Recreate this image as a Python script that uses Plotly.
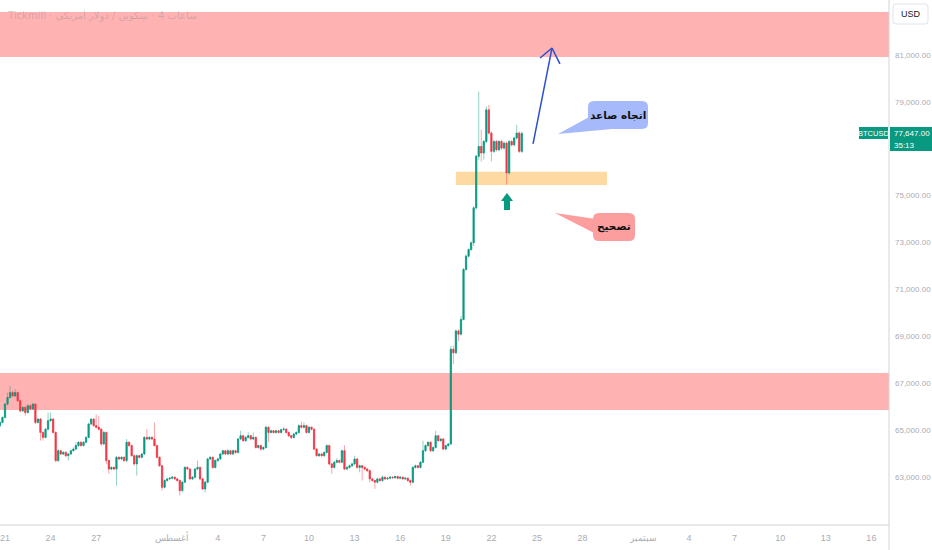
import pandas as pd
import plotly.graph_objs as go

# 4h candles, BTCUSD
opens = [65190, 65330, 65540, 66110, 66390, 66600, 66460, 66600, 66250, 65820,
         65970, 65750, 66040, 65900, 66110, 65330, 65470, 64900, 64690, 65040,
         65400, 65470, 64900, 63700, 64120, 63980, 64050, 63910, 63980, 64120,
         64190, 64340, 64480, 64340, 64480, 64690, 65260, 65470, 65190, 65120,
         65040, 64410, 64900, 63700, 63340, 63410, 63340, 63840, 63770, 63840,
         63700, 64480, 64340, 63910, 63560, 63910, 63840, 63980, 64690, 64620,
         64690, 64620, 64340, 63840, 63480, 62560, 62850, 62920, 62950, 62990,
         62920, 62850, 62420, 62780, 63410, 63340, 62920, 62990, 63340, 63410,
         62920, 62490, 62780, 63770, 63840, 63410, 63700, 63770, 63980, 64120,
         63980, 64120, 63980, 64120, 64050, 64620, 64760, 64550, 64690, 64760,
         64620, 64690, 64260, 64340, 64190, 64260, 65120, 64900, 64970, 64900,
         64970, 64900, 65020, 65040, 64900, 64760, 64690, 64830, 64900, 65190,
         65120, 65190, 64900, 65120, 65040, 64190, 63910, 63980, 63910, 64050,
         64340, 63560, 63410, 63630, 63700, 63630, 64120, 63340, 63410, 63480,
         63560, 63770, 63410, 63480, 63410, 63340, 63270, 62920, 62850, 62780,
         62920, 62850, 62990, 62920, 62950, 62990, 62970, 63020, 62950, 62990,
         62920, 62950, 62850, 62780, 63410, 63480, 63410, 63630, 64120, 64340,
         64480, 64120, 64260, 64760, 64550, 64620, 64190, 64340, 64410, 68450,
         68300, 69230, 69090, 69720, 71850, 72420, 72700, 72990, 74480, 76680,
         77100, 76820, 77310, 78660, 77670, 76890, 77310, 76960, 77310, 77030,
         77240, 75970, 77310, 77170, 77460, 77670, 76890]
highs = [65380, 65590, 66160, 66600, 66890, 66680, 66750, 66650, 66300, 66020,
         66010, 66110, 66080, 66160, 66150, 65520, 65510, 64950, 65090, 65750,
         65750, 65510, 64950, 64190, 64160, 64100, 64090, 64030, 64170, 64260,
         64480, 64530, 64520, 64530, 64740, 65310, 65500, 65510, 65680, 65610,
         65080, 64970, 64940, 63740, 63460, 63450, 63890, 63880, 63890, 63880,
         64620, 64520, 64380, 63950, 63960, 63950, 64030, 64740, 65040, 64740,
         64730, 65330, 64380, 63880, 63520, 62900, 62970, 63000, 63040, 63030,
         62960, 62890, 62830, 63460, 63450, 63380, 63040, 63390, 63700, 63450,
         62960, 62830, 63820, 63890, 63880, 63750, 63820, 64030, 64170, 64160,
         64190, 64160, 64170, 64160, 64670, 64970, 64800, 64740, 64900, 64800,
         64900, 64730, 64380, 64380, 64310, 65190, 65160, 65020, 65010, 65020,
         65010, 65070, 65120, 65080, 64940, 64800, 64880, 64950, 65240, 65360,
         65330, 65230, 65170, 65160, 65080, 64230, 64030, 64020, 64100, 64390,
         64380, 63600, 63680, 63800, 63740, 64170, 64360, 63460, 63530, 63610,
         63910, 63810, 63530, 63520, 63450, 63380, 63310, 62960, 62890, 62970,
         62960, 63060, 63030, 63000, 63040, 63030, 63060, 63060, 63040, 63030,
         62990, 62990, 62890, 63460, 63530, 63520, 63680, 64550, 64390, 64530,
         64520, 64310, 64970, 64800, 64670, 64660, 64380, 64450, 68590, 68600,
         69300, 69300, 69870, 71920, 72500, 72760, 73050, 74540, 76740, 79440,
         77810, 77380, 78800, 78870, 77740, 77380, 77380, 77380, 77380, 77310,
         77310, 77380, 77380, 77530, 78020, 77740, 77740]
lows = [65120, 65280, 65500, 66060, 66340, 66400, 66410, 66200, 65750, 65770,
        65610, 65700, 65850, 65850, 65260, 65280, 64550, 64550, 64640, 64990,
        65350, 64850, 63630, 63650, 63930, 63930, 63840, 63700, 63940, 64080,
        64150, 64290, 64290, 64300, 64440, 64650, 65210, 65140, 65070, 64990,
        64335, 64360, 63560, 63130, 63290, 63290, 62630, 63720, 63720, 63650,
        63650, 64290, 63860, 63480, 63060, 63790, 63790, 63940, 64570, 64570,
        64570, 64290, 63790, 63430, 62420, 62510, 62800, 62870, 62900, 62870,
        62800, 62210, 62370, 62740, 63290, 62870, 62870, 62940, 63290, 62870,
        62440, 62350, 62740, 63720, 63360, 63360, 63650, 63720, 63930, 63930,
        63930, 63930, 63930, 64000, 64000, 64570, 64500, 64500, 64640, 64570,
        64570, 64210, 64210, 64120, 64140, 64210, 64480, 64850, 64850, 64850,
        64850, 64850, 64970, 64850, 64710, 64620, 64640, 64780, 64850, 65070,
        65070, 64850, 64850, 64990, 64140, 63860, 63860, 63860, 63860, 64000,
        63500, 63130, 63360, 63580, 63580, 63580, 63290, 63290, 63360, 63430,
        63510, 63360, 63200, 62850, 63290, 63220, 62780, 62800, 62490, 62730,
        62800, 62800, 62870, 62870, 62900, 62930, 62930, 62900, 62900, 62870,
        62870, 62780, 62630, 62730, 63360, 63360, 63360, 63580, 64070, 64290,
        64070, 64070, 64210, 64500, 64500, 64140, 64140, 64290, 64360, 67820,
        68250, 68800, 69040, 69680, 71800, 72370, 72650, 72850, 74400, 76530,
        76460, 76530, 77240, 77600, 76460, 76820, 76890, 76890, 76960, 76960,
        75470, 75900, 77100, 77100, 77390, 76820, 76820]
closes = [65330, 65540, 66110, 66390, 66600, 66460, 66600, 66250, 65820, 65970,
          65750, 66040, 65900, 66110, 65330, 65470, 64900, 64690, 65040, 65400,
          65470, 64900, 63700, 64120, 63980, 64050, 63910, 63980, 64120, 64190,
          64340, 64480, 64340, 64480, 64690, 65260, 65470, 65190, 65120, 65040,
          64410, 64900, 63700, 63340, 63410, 63340, 63840, 63770, 63840, 63700,
          64480, 64340, 63910, 63560, 63910, 63840, 63980, 64690, 64620, 64690,
          64620, 64340, 63840, 63480, 62560, 62850, 62920, 62950, 62990, 62920,
          62850, 62420, 62780, 63410, 63340, 62920, 62990, 63340, 63410, 62920,
          62490, 62780, 63770, 63840, 63410, 63700, 63770, 63980, 64120, 63980,
          64120, 63980, 64120, 64050, 64620, 64760, 64550, 64690, 64760, 64620,
          64690, 64260, 64340, 64190, 64260, 65120, 64900, 64970, 64900, 64970,
          64900, 65020, 65040, 64900, 64760, 64690, 64830, 64900, 65190, 65120,
          65190, 64900, 65120, 65040, 64190, 63910, 63980, 63910, 64050, 64340,
          63560, 63410, 63630, 63700, 63630, 64120, 63340, 63410, 63480, 63560,
          63770, 63410, 63480, 63410, 63340, 63270, 62920, 62850, 62780, 62920,
          62850, 62990, 62920, 62950, 62990, 62970, 63020, 62950, 62990, 62920,
          62950, 62850, 62780, 63410, 63480, 63410, 63630, 64120, 64340, 64480,
          64120, 64260, 64760, 64550, 64620, 64190, 64340, 64410, 68450, 68300,
          69230, 69090, 69720, 71850, 72420, 72700, 72990, 74480, 76680, 77100,
          76820, 77310, 78660, 77670, 76890, 77310, 76960, 77310, 77030, 77240,
          75970, 77310, 77170, 77460, 77670, 76890, 77647]

times = pd.date_range("2024-07-20 16:00", periods=len(closes), freq="4h")

# zones drawn on the chart (price levels)
resist_top = [80915, 82830]
resist_low = [65860, 67440]
support_zone = [75460, 76020]
support_dates = ["2024-08-19 16:00", "2024-08-29 14:30"]

tick_dates = ["2024-07-21", "2024-07-24", "2024-07-27", "2024-08-01", "2024-08-04",
              "2024-08-07", "2024-08-10", "2024-08-13", "2024-08-16", "2024-08-19",
              "2024-08-22", "2024-08-25", "2024-08-28", "2024-09-01", "2024-09-04",
              "2024-09-07", "2024-09-10", "2024-09-13", "2024-09-16"]
tick_text = ["21", "24", "27", "أغسطس", "4", "7", "10", "13", "16", "19",
             "22", "25", "28", "سبتمبر", "4", "7", "10", "13", "16"]
# 77,000 sits under the live price label
price_ticks = [63000, 65000, 67000, 69000, 71000, 73000, 75000, 79000, 81000]

GREEN = "#089981"
RED = "#f23645"
GREY = "#a9acb4"
FONT = "Liberation Sans, Arial, sans-serif"

W, H = 889, 525   # plot area in px


def px(x, y):
    return x / W, 1 - y / H


def rbox(x0, y0, x1, y1, r):
    def p(x, y):
        a, b = px(x, y)
        return "%.5f,%.5f" % (a, b)
    return ("M " + p(x0 + r, y0) + " L " + p(x1 - r, y0) + " Q " + p(x1, y0) + " " + p(x1, y0 + r) +
            " L " + p(x1, y1 - r) + " Q " + p(x1, y1) + " " + p(x1 - r, y1) +
            " L " + p(x0 + r, y1) + " Q " + p(x0, y1) + " " + p(x0, y1 - r) +
            " L " + p(x0, y0 + r) + " Q " + p(x0, y0) + " " + p(x0 + r, y0) + " Z")


def poly(pts):
    s = []
    for i, (x, y) in enumerate(pts):
        a, b = px(x, y)
        s.append(("M " if i == 0 else "L ") + "%.5f,%.5f" % (a, b))
    return " ".join(s) + " Z"


def label(x, y, text, size, color, family=FONT, anchor="center", weight="normal"):
    a, b = px(x, y)
    return dict(xref="paper", yref="paper", x=a, y=b, xanchor=anchor, yanchor="middle",
                text=text, showarrow=False,
                font=dict(family=family, size=size, color=color, weight=weight))


# wicks (pale) + bodies (solid)
wicks = go.Candlestick(x=times, open=opens, high=highs, low=lows, close=closes,
                       increasing=dict(line=dict(color="rgba(8,153,129,0.45)", width=1),
                                       fillcolor="rgba(8,153,129,0.45)"),
                       decreasing=dict(line=dict(color="rgba(242,54,69,0.45)", width=1),
                                       fillcolor="rgba(242,54,69,0.45)"),
                       showlegend=False, hoverinfo="skip")
body_hi = [max(o, c) for o, c in zip(opens, closes)]
body_lo = [min(o, c) for o, c in zip(opens, closes)]
bodies = go.Candlestick(x=times, open=opens, high=body_hi, low=body_lo, close=closes,
                        increasing=dict(line=dict(color=GREEN, width=0.5), fillcolor=GREEN),
                        decreasing=dict(line=dict(color=RED, width=0.5), fillcolor=RED),
                        showlegend=False, hoverinfo="skip")

shapes = [
    dict(type="rect", xref="paper", yref="y", x0=0, x1=1, y0=resist_top[0], y1=resist_top[1],
         fillcolor="#ffb2b2", line=dict(width=0), layer="below"),
    dict(type="rect", xref="paper", yref="y", x0=0, x1=1, y0=resist_low[0], y1=resist_low[1],
         fillcolor="#ffb2b2", line=dict(width=0), layer="below"),
    dict(type="rect", xref="x", yref="y", x0=support_dates[0], x1=support_dates[1],
         y0=support_zone[0], y1=support_zone[1], fillcolor="#fed9a2", line=dict(width=0), layer="below"),
    # blue trend arrow
    dict(type="line", xref="x", yref="y", x0="2024-08-24 17:45", y0=77210, x1="2024-08-25 23:45", y1=81300,
         line=dict(color="#2a4fd0", width=1.5)),
    dict(type="line", xref="x", yref="y", x0="2024-08-25 04:50", y0=80870, x1="2024-08-25 23:45", y1=81300,
         line=dict(color="#2a4fd0", width=1.5)),
    dict(type="line", xref="x", yref="y", x0="2024-08-26 12:15", y0=80620, x1="2024-08-25 23:45", y1=81300,
         line=dict(color="#2a4fd0", width=1.5)),
    # green up arrow under the dip
    dict(type="path", xref="paper", yref="paper",
         path=poly([(507, 193), (513, 201), (510, 201), (510, 210), (504, 210), (504, 201), (501, 201)]),
         fillcolor=GREEN, line=dict(width=0)),
    # callouts
    dict(type="path", xref="paper", yref="paper", path=poly([(591, 116), (558, 134), (612, 129)]),
         fillcolor="#a6b9fa", line=dict(width=0)),
    dict(type="path", xref="paper", yref="paper", path=rbox(588, 101, 648, 129, 6),
         fillcolor="#a6b9fa", line=dict(width=0)),
    dict(type="path", xref="paper", yref="paper", path=poly([(555, 213), (596, 219), (600, 236)]),
         fillcolor="#fd9e9e", line=dict(width=0)),
    dict(type="path", xref="paper", yref="paper", path=rbox(593, 213, 635, 241, 6),
         fillcolor="#fd9e9e", line=dict(width=0)),
    # axis borders
    dict(type="line", xref="paper", yref="paper", x0=1, x1=1, y0=-25 / H, y1=1,
         line=dict(color="#d4d4d4", width=1)),
    dict(type="line", xref="paper", yref="paper", x0=0, x1=1, y0=0, y1=0,
         line=dict(color="#d4d4d4", width=1)),
    # USD box
    dict(type="path", xref="paper", yref="paper", path=rbox(893, 4, 928, 24, 3),
         fillcolor="white", line=dict(color="#e0e3eb", width=1)),
    # price labels
    dict(type="rect", xref="paper", yref="paper", x0=px(890, 0)[0], x1=px(932, 0)[0],
         y0=px(0, 151)[1], y1=px(0, 127)[1], fillcolor=GREEN, line=dict(width=0)),
    dict(type="rect", xref="paper", yref="paper", x0=px(859, 0)[0], x1=px(888, 0)[0],
         y0=px(0, 139)[1], y1=px(0, 127)[1], fillcolor=GREEN, line=dict(width=0)),
]

annotations = [
    label(618, 115, "اتجاه صاعد", 10.5, "#111111", "DejaVu Sans", weight="bold"),
    label(614, 227, "تصحيح", 10.5, "#111111", "DejaVu Sans", weight="bold"),
    label(5, 16, "Tickmill \u200e· بيتكوين / دولار أمريكي\u200e · \u200e4 ساعات", 10,
          "rgba(130,130,140,0.35)", "DejaVu Sans", anchor="left"),
    label(910.5, 14, "USD", 9, "#131722"),
    label(892, 133, "77,647.00", 8, "white", anchor="left"),
    label(892, 145, "35:13", 8, "white", anchor="left"),
    label(873.5, 133, "BTCUSD", 7.5, "white"),
]

layout = go.Layout(
    width=932, height=550,
    margin=dict(l=0, r=43, t=0, b=25),
    paper_bgcolor="white", plot_bgcolor="white",
    showlegend=False, hovermode=False,
    xaxis=dict(type="date", range=["2024-07-20 16:06", "2024-09-17 03:50"],
               rangeslider=dict(visible=False), showgrid=False, zeroline=False,
               tickvals=tick_dates, ticktext=tick_text, ticks="", ticklabeloverflow="allow",
               ticklabelstandoff=6,
               tickfont=dict(family=FONT, size=9, color=GREY), automargin=False),
    yaxis=dict(side="right", range=[60953, 83346], showgrid=False, zeroline=False,
               tickvals=price_ticks, tickformat=",.2f", ticks="", ticklabelstandoff=5,
               tickfont=dict(family=FONT, size=8, color=GREY), automargin=False),
    shapes=shapes,
    annotations=annotations,
)

fig = go.Figure(data=[wicks, bodies], layout=layout)
fig.write_html("out.html", config={"displayModeBar": False},
               post_script="document.body.style.margin='0';")
